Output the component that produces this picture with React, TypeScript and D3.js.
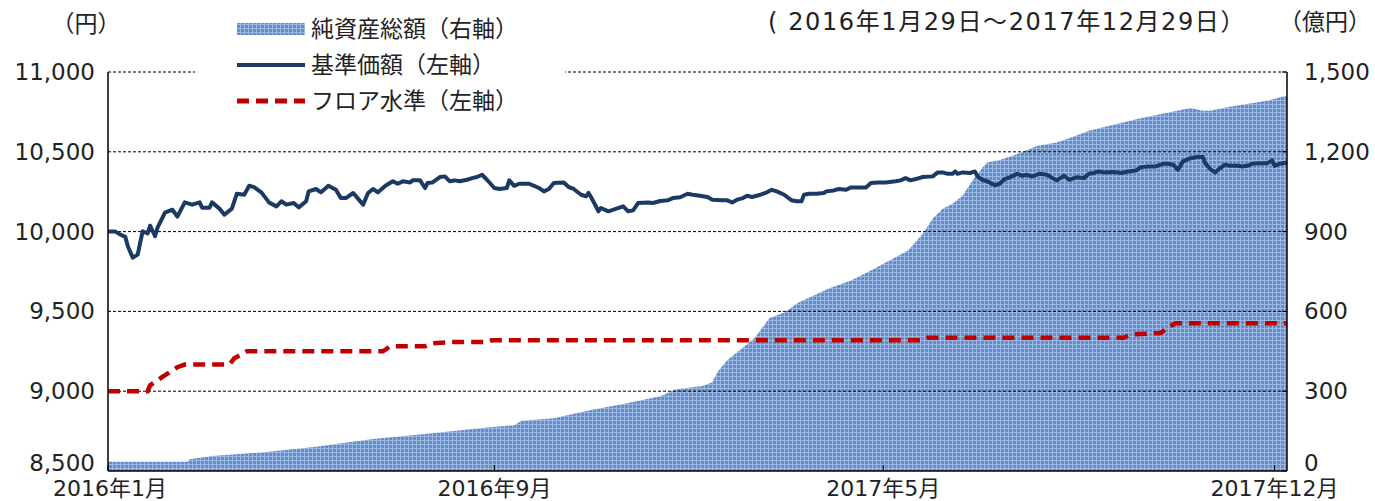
import React from "react";
import * as d3 from "d3";

// ---- data (x = trading-day index from 2016-01-29 to 2017-12-29) ----
const navIdx = [0,3,5,7,8,10,12,13,14,16,17,19,20,23,26,28,31,34,37,38,41,42,45,47,50,52,55,57,59,62,65,68,70,72,75,77,80,81,84,86,89,92,94,96,99,103,105,107,109,112,115,117,119,122,123,126,128,129,131,134,136,138,140,142,145,147,149,151,153,156,158,161,162,164,166,170,172,174,176,178,180,184,186,188,191,193,194,195,197,198,199,202,205,208,210,212,214,218,220,223,226,228,231,234,236,239,242,244,248,250,252,254,256,258,260,263,266,268,270,273,276,278,280,281,283,286,289,290,293,295,298,300,303,306,308,311,314,318,320,322,324,327,329,333,335,337,339,341,342,343,345,348,350,351,353,355,358,360,362,364,367,369,371,373,376,379,383,386,388,391,394,396,398,400,402,406,409,412,415,417,420,423,426,428,430,432,434,437,440,442,443,445,447,449,451,453,456,458,460,462,465,468,470,471,473,476];
const navValues = [10000,10000,9981,9967,9908,9837,9856,9931,10002,9988,10037,9971,10025,10119,10137,10094,10183,10169,10183,10150,10150,10183,10144,10106,10144,10237,10231,10287,10279,10244,10183,10158,10190,10169,10179,10152,10190,10252,10267,10246,10287,10262,10210,10210,10242,10169,10242,10267,10246,10287,10315,10300,10315,10308,10321,10321,10273,10304,10308,10342,10346,10315,10321,10315,10325,10335,10342,10356,10325,10273,10267,10273,10321,10287,10300,10300,10287,10273,10252,10267,10304,10308,10279,10267,10231,10221,10242,10217,10158,10127,10148,10127,10142,10158,10127,10133,10179,10183,10179,10192,10196,10210,10215,10237,10231,10225,10217,10200,10196,10196,10183,10200,10208,10225,10217,10229,10246,10262,10252,10231,10196,10190,10190,10231,10237,10237,10242,10252,10258,10267,10262,10277,10277,10277,10304,10308,10308,10315,10321,10335,10321,10333,10342,10346,10371,10371,10362,10362,10377,10362,10371,10367,10377,10346,10325,10315,10290,10300,10329,10340,10362,10350,10356,10346,10362,10356,10321,10350,10325,10340,10335,10362,10367,10377,10371,10373,10367,10377,10383,10404,10408,10408,10425,10425,10419,10387,10440,10460,10467,10467,10429,10392,10371,10398,10419,10412,10412,10408,10412,10425,10429,10429,10446,10412,10425,10433];

const floorIdx = [0,16,17,22,24,28,31,49,51,56,111,114,128,131,138,153,155,328,331,410,413,425,428,431,476];
const floorValues = [9000,9000,9037,9090,9110,9150,9167,9167,9206,9250,9250,9281,9281,9300,9308,9308,9319,9319,9335,9335,9355,9365,9400,9425,9425];

const assetIdx = [0,32,33,42,61,84,107,130,153,164,167,180,195,207,223,229,240,244,246,250,255,261,267,273,279,285,291,300,308,314,320,323,329,333,337,341,345,349,353,355,360,364,369,375,383,388,394,396,416,437,442,445,453,469,476];
const assetValues = [35,35,44,56,69,91,120,141,164,172,189,198,229,250,281,306,320,334,371,416,454,499,574,596,634,660,686,716,754,784,814,829,892,949,986,1005,1035,1091,1140,1160,1169,1181,1198,1222,1235,1251,1272,1279,1324,1365,1354,1354,1369,1394,1412];

const xTickIdx = [0, 156, 313, 471];
const xTickLabels = ["2016年1月", "2016年9月", "2017年5月", "2017年12月"];
const leftTicks = [8500, 9000, 9500, 10000, 10500, 11000];
const rightTicks = [0, 300, 600, 900, 1200, 1500];

const legendLabels = ["純資産総額（右軸）", "基準価額（左軸）", "フロア水準（左軸）"];
const titleText = "( 2016年1月29日～2017年12月29日）";

const W = 1375, H = 501;
const left = 108, right = 1287, top = 72, bottom = 471;
const FONT = "'DejaVu Sans', 'Noto Sans CJK JP', sans-serif";
const TXT = "#222";
const NAVY = "#1b3a63";
const RED = "#c00000";

export default function App() {
  const x = d3.scaleLinear().domain([0, 476]).range([left, right]);
  const yL = d3.scaleLinear().domain([8500, 11000]).range([bottom, top]);
  const yR = d3.scaleLinear().domain([0, 1500]).range([bottom, top]);

  const areaGen = d3.area<number>()
    .x((_, i) => x(assetIdx[i]))
    .y0(bottom)
    .y1((d) => yR(d));
  const navLine = d3.line<number>().x((_, i) => x(navIdx[i])).y((d) => yL(d));
  const floorLine = d3.line<number>().x((_, i) => x(floorIdx[i])).y((d) => yL(d));

  const legendY = [29, 65, 101];

  return (
    <svg width={W} height={H} style={{ position: "absolute", left: 0, top: 0, background: "#fff" }} fontFamily={FONT}>
      <defs>
        <pattern id="tex" width="4" height="4" patternUnits="userSpaceOnUse">
          <rect width="4" height="4" fill="#6590cf" />
          <rect width="4" height="1" fill="#9bb8e2" />
          <rect width="1" height="4" fill="#9bb8e2" />
          <rect x="2" y="2" width="1" height="1" fill="#5a84c2" />
        </pattern>
      </defs>
      <rect width={W} height={H} fill="#fff" />

      {/* area */}
      <path d={areaGen(assetValues) || ""} fill="url(#tex)" />

      {/* gridlines */}
      {leftTicks.filter((t) => t !== 8500).map((t) => (
        <line key={t} x1={left} x2={right} y1={yL(t)} y2={yL(t)} stroke="#000" strokeWidth={1} strokeDasharray="3,2" />
      ))}

      {/* floor */}
      <path d={floorLine(floorValues) || ""} fill="none" stroke={RED} strokeWidth={4.5} strokeDasharray="12,7" />
      {/* nav */}
      <path d={navLine(navValues) || ""} fill="none" stroke={NAVY} strokeWidth={4} strokeLinejoin="round" />

      {/* axes */}
      <line x1={left} x2={left} y1={top} y2={bottom} stroke="#000" strokeWidth={1.5} />
      <line x1={right} x2={right} y1={top} y2={bottom} stroke="#000" strokeWidth={1.5} />
      <line x1={left} x2={right} y1={bottom} y2={bottom} stroke="#000" strokeWidth={1.5} />
      {rightTicks.map((t) => (
        <line key={t} x1={right - 5} x2={right} y1={yR(t)} y2={yR(t)} stroke="#000" strokeWidth={1} />
      ))}
      {xTickIdx.map((t) => (
        <line key={t} x1={x(t)} x2={x(t)} y1={bottom - 6} y2={bottom} stroke="#000" strokeWidth={1} />
      ))}

      {/* left labels */}
      {leftTicks.map((t) => (
        <text key={t} x={95} y={t === 8500 ? yL(t) - 8 : yL(t)} textAnchor="end" dominantBaseline="central" fontSize={23} fill={TXT}>
          {d3.format(",")(t)}
        </text>
      ))}
      {/* right labels */}
      {rightTicks.map((t) => (
        <text key={t} x={1304} y={t === 0 ? yR(t) - 8 : yR(t)} textAnchor="start" dominantBaseline="central" fontSize={23} fill={TXT}>
          {d3.format(",")(t)}
        </text>
      ))}
      {/* x labels */}
      {xTickIdx.map((t, i) => (
        <text key={t} x={x(t) + (i === 0 ? 2 : 0)} y={488} textAnchor="middle" dominantBaseline="central" fontSize={22} fill={TXT}>
          {xTickLabels[i]}
        </text>
      ))}

      {/* unit labels and title */}
      <text x={86} y={24} textAnchor="middle" dominantBaseline="central" fontSize={23} fill={TXT}>（円）</text>
      <text x={1325} y={22} textAnchor="middle" dominantBaseline="central" fontSize={23} fill={TXT}>（億円）</text>
      <text x={768} y={22} textAnchor="start" dominantBaseline="central" fontSize={24} letterSpacing={1.6} fill={TXT}>{titleText}</text>

      {/* legend */}
      <rect x={195} y={8} width={370} height={112} fill="#fff" />
      <rect x={237} y={23} width={68} height={12} fill="url(#tex)" />
      <line x1={237} x2={305} y1={legendY[1]} y2={legendY[1]} stroke={NAVY} strokeWidth={4} />
      <line x1={237} x2={305} y1={legendY[2]} y2={legendY[2]} stroke={RED} strokeWidth={5} strokeDasharray="12,7" />
      {legendLabels.map((l, i) => (
        <text key={l} x={311} y={legendY[i]} dominantBaseline="central" fontSize={23} fill={TXT}>{l}</text>
      ))}
    </svg>
  );
}
